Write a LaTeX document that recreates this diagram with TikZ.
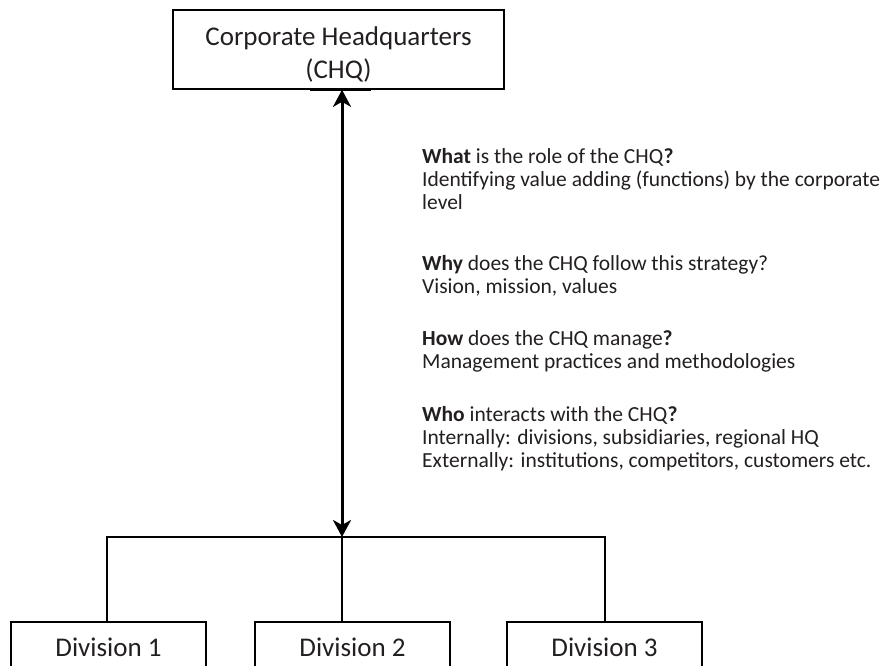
\documentclass[tikz,border=0pt]{standalone}
\usepackage{fontspec}
\setmainfont{Carlito}
\usetikzlibrary{arrows.meta}
\definecolor{ink}{HTML}{231F20}
\begin{document}
\begin{tikzpicture}[x=1pt,y=-1pt,
  frame/.style={draw=black,line width=1.6pt,inner sep=0pt},
  divbox/.style={frame,anchor=north,minimum width=195pt,text height=20pt,text depth=6pt,inner ysep=14.6pt,
    font=\fontsize{27}{33}\selectfont,text=ink},
  title/.style={align=center,font=\fontsize{27}{33}\selectfont,text=ink,inner sep=0pt},
  body/.style={anchor=base west,inner sep=0pt,font=\fontsize{21.5}{23}\selectfont,text=ink},
  conn/.style={draw=black,line width=2pt},
  bigarrow/.style={draw=black,line width=3pt,
    {Stealth[length=17pt,width=18pt,inset=5pt]}-{Stealth[length=17pt,width=18pt,inset=5pt]}}]
\clip (0,0) rectangle (880,665);
\fill[white] (0,0) rectangle (880,665);

% headquarters
\node[frame,minimum width=331pt,minimum height=79pt] (chq) at (338.5,49.5) {};
\node[title] (chqtext) at ([yshift=-5pt]chq.center) {Corporate Headquarters\\(CHQ)};
\draw[line width=3pt] ([xshift=-28.5pt]chq.south) -- ([xshift=32.5pt]chq.south);

% divisions
\node[divbox] (d1) at (108.5,621) {Division 1};
\node[divbox] (d2) at (352.5,621) {Division 2};
\node[divbox] (d3) at (604.5,621) {Division 3};

% junction and connectors
\coordinate (j) at (342,537);
\coordinate (l) at (107,537);
\coordinate (r) at (605,537);
\draw[conn] (l |- d1.north) -- (l) -- (r) -- (r |- d3.north);
\draw[conn] (j) -- (j |- d2.north);
\draw[bigarrow] (j |- chq.south) -- (j);

% text
\node[body] (t1) at (422,163) {\textbf{What} is the role of the CHQ\textbf{?}};
\node[body] (t2) at (422,186) {Identifying value adding (functions) by the corporate};
\node[body] (t3) at (422,209) {level};
\node[body] (t4) at (422,270) {\textbf{Why} does the CHQ follow this strategy?};
\node[body] (t5) at (422,293) {Vision, mission, values};
\node[body] (t6) at (422,345) {\textbf{How} does the CHQ manage\textbf{?}};
\node[body] (t7) at (422,368) {Management practices and methodologies};
\node[body] (t8) at (422,421) {\textbf{Who} interacts with the CHQ\textbf{?}};
\node[body] (t9) at (422,444) {Internally: divisions, subsidiaries, regional HQ};
\node[body] (t10) at (422,467) {Externally: institutions, competitors, customers etc.};
\end{tikzpicture}
\end{document}
